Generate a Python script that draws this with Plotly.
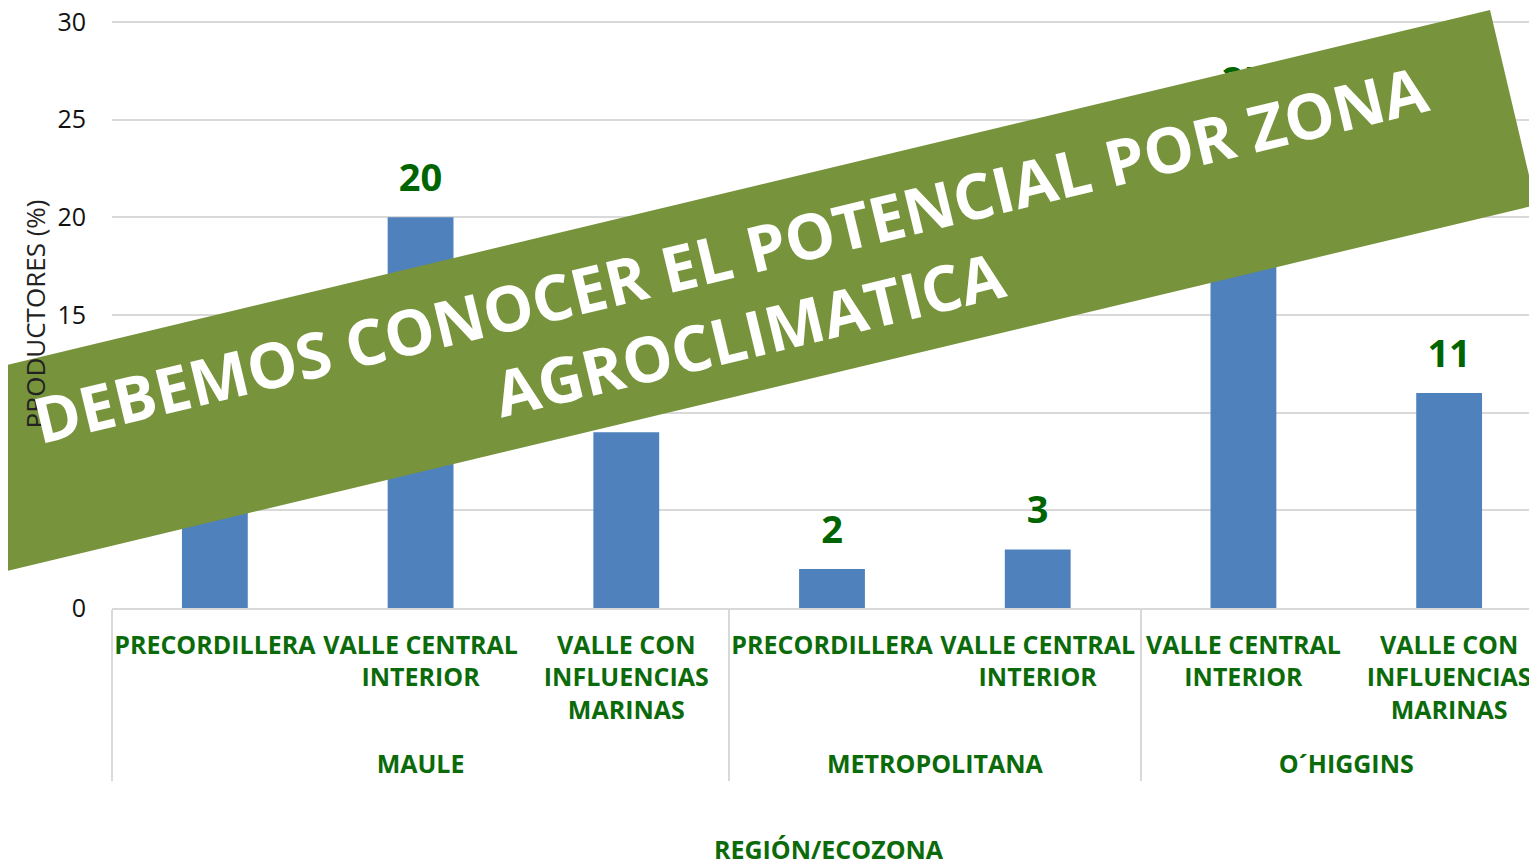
import plotly.graph_objects as go

# data
regions = ["MAULE", "MAULE", "MAULE", "METROPOLITANA", "METROPOLITANA", "O´HIGGINS", "O´HIGGINS"]
zones = [
    "PRECORDILLERA",
    "VALLE CENTRAL<br>INTERIOR",
    "VALLE CON<br>INFLUENCIAS<br>MARINAS",
    "PRECORDILLERA",
    "VALLE CENTRAL<br>INTERIOR",
    "VALLE CENTRAL<br>INTERIOR",
    "VALLE CON<br>INFLUENCIAS<br>MARINAS",
]
productores = [10, 20, 9, 2, 3, 25, 11]
y_ticks = [0, 5, 10, 15, 20, 25, 30]

GREEN_TXT = "#0B6B0B"
BAR_BLUE = "#4F81BD"
BANNER = "#77933C"
LABEL_FONT = "Open Sans, sans-serif"

# figure geometry; the page body adds an 8px offset
W, H = 1537, 864
L, T, B = 104, 12, 264
PW, PH = W - L, H - T - B
OFF = 8


def px(sx, sy):
    # screen pixel -> paper coords
    return (sx - OFF - L) / PW, (H - B - (sy - OFF)) / PH


# region labels sit one blank line lower so they clear the 3-line zone labels
region_labels = ["\u00a0<br>" + r for r in regions]

fig = go.Figure()
fig.add_trace(go.Bar(
    x=[region_labels, zones],
    y=productores,
    marker=dict(color=BAR_BLUE, line=dict(width=0)),
    hoverinfo="y",
))
# value labels, lifted above bars by an invisible marker
fig.add_trace(go.Scatter(
    x=[region_labels, zones],
    y=productores,
    mode="markers+text",
    marker=dict(size=25, color="rgba(0,0,0,0)"),
    text=productores,
    textposition="top center",
    cliponaxis=False,
    textfont=dict(family=LABEL_FONT, size=38, color="#006400", weight="bold"),
    hoverinfo="skip",
))

# rotated green banner over the chart
corners = [px(-60, 381), px(1490, 10), px(1536, 205), px(-60, 587)]
path = "M " + " L ".join(f"{cx:.5f},{cy:.5f}" for cx, cy in corners) + " Z"
fig.add_shape(type="path", path=path, xref="paper", yref="paper",
              fillcolor=BANNER, line=dict(width=0), layer="above")

ax, ay = px(739, 293)
fig.add_annotation(
    x=ax, y=ay, xref="paper", yref="paper", showarrow=False,
    text="DEBEMOS CONOCER EL POTENCIAL POR ZONA<br>AGROCLIMATICA",
    textangle=-13.5, align="center",
    font=dict(family="Open Sans, sans-serif", size=63, color="white", weight="bold"),
)

fig.update_layout(
    width=W, height=H,
    margin=dict(l=L, r=0, t=T, b=B, autoexpand=False),
    plot_bgcolor="white", paper_bgcolor="white",
    bargap=0.68,
    showlegend=False,
)
fig.update_yaxes(
    range=[0, 30.1], tickvals=y_ticks, automargin=False,
    ticklabeloverflow="allow",
    showgrid=True, gridcolor="#D9D9D9", gridwidth=1.5,
    zeroline=False, showline=False, ticklabelstandoff=25,
    tickfont=dict(family="Open Sans, sans-serif", size=25, color="#111111"),
    title=dict(text="PRODUCTORES (%)", standoff=4,
               font=dict(family="Open Sans, sans-serif", size=26, color="#222222")),
)
fig.update_xaxes(
    type="multicategory",
    range=[-0.5, 6.466], automargin=False, tickangle=0,
    ticklabelstandoff=14,
    showline=True, linecolor="#D9D9D9", linewidth=1.5,
    showdividers=True, dividercolor="#D9D9D9", dividerwidth=1.5,
    tickfont=dict(family=LABEL_FONT, size=25, color=GREEN_TXT, weight="bold"),
    title=dict(text="REGIÓN/ECOZONA", standoff=62,
               font=dict(family=LABEL_FONT, size=25, color=GREEN_TXT, weight="bold")),
)

fig.write_html("out.html")
